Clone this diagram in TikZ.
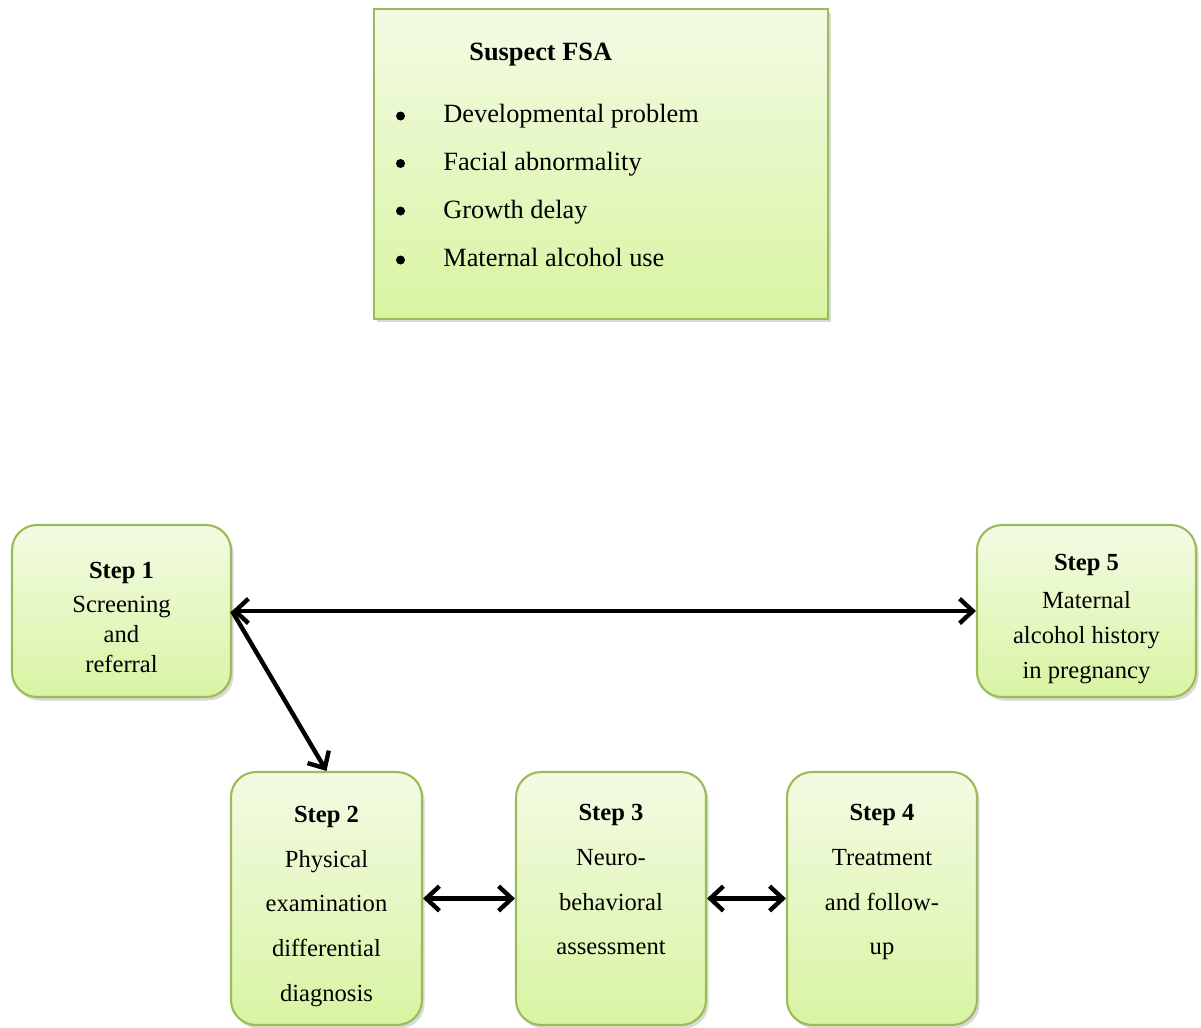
\documentclass[tikz,border=0pt]{standalone}
\usepackage{fontspec}
\setmainfont{Liberation Serif}
\usetikzlibrary{positioning, calc, shadows, arrows.meta}
\definecolor{boxline}{RGB}{155,187,89}
\definecolor{boxtop}{RGB}{243,251,228}
\definecolor{boxbot}{RGB}{216,244,162}

\begin{document}
\begin{tikzpicture}[x=0.02cm, y=-0.02cm]%
            \tikzstyle{box}=[draw=boxline, line width=1.2pt, top color=boxtop, bottom color=boxbot, drop shadow={shadow xshift=1.5pt, shadow yshift=-2pt, opacity=0.3}];%
            \tikzstyle{stepbox}=[box, rounded corners=0.5cm];%
            \tikzstyle{steptext}=[align=center, inner sep=0pt];%
            \tikzstyle{item}=[anchor=base west, inner sep=0pt, font=\fontsize{15}{18}\selectfont];%
            \tikzstyle{dot}=[circle, fill=black, inner sep=0pt, minimum size=0.18cm];%
            \tikzstyle{link}=[line width=2.5pt, {Straight Barb[length=7.5pt, width=14pt]}-{Straight Barb[length=7.5pt, width=14pt]}];%
            \useasboundingbox (0, 0) rectangle (1201, 1028);

            % suspect box
            \node[box, minimum width=9.08cm, minimum height=6.2cm] (fsa) at (601, 164) {};
            \node[item] (title) at (469, 60) {\textbf{Suspect FSA}};
            \node[dot] (b1) at (400.5, 116) {};
            \node[item] (i1) at (443, 122.5) {Developmental problem};
            \node[dot] (b2) at (400.5, 163.5) {};
            \node[item] (i2) at (443, 170.5) {Facial abnormality};
            \node[dot] (b3) at (400.5, 211) {};
            \node[item] (i3) at (443, 218) {Growth delay};
            \node[dot] (b4) at (400.5, 260) {};
            \node[item] (i4) at (443, 266.5) {Maternal alcohol use};

            % steps
            \node[stepbox, minimum width=4.38cm, minimum height=3.44cm] (s1) at (121.5, 611) {};
            \node[steptext, yshift=-3.7pt, font=\fontsize{14}{17}\selectfont] (t1) at (s1) {\textbf{Step 1}\\[2.5pt]Screening\\and\\referral};
            \node[stepbox, minimum width=4.38cm, minimum height=3.44cm] (s5) at (1086.5, 611) {};
            \node[steptext, yshift=-4.5pt, font=\fontsize{14}{20}\selectfont] (t5) at (s5) {\textbf{Step 5}\\[1.5pt]Maternal\\alcohol history\\in pregnancy};
            \node[stepbox, minimum width=3.82cm, minimum height=5.06cm] (s2) at (326.5, 898.5) {};
            \node[steptext, yshift=-4.5pt, font=\fontsize{14}{25.5}\selectfont] (t2) at (s2) {\textbf{Step 2}\\Physical\\examination\\differential\\diagnosis};
            \node[stepbox, minimum width=3.8cm, minimum height=5.06cm] (s3) at (611, 898.5) {};
            \node[steptext, yshift=-5.8pt, font=\fontsize{14}{25.5}\selectfont] (t3) at (s3) {\textbf{Step 3}\\Neuro-\\behavioral\\assessment\\\strut};
            \node[stepbox, minimum width=3.8cm, minimum height=5.06cm] (s4) at (882, 898.5) {};
            \node[steptext, yshift=-5.8pt, font=\fontsize{14}{25.5}\selectfont] (t4) at (s4) {\textbf{Step 4}\\Treatment\\and follow-\\up\\\strut};

            % links
            \draw (s1.east) edge[link] (s5.west);
            \draw (s1.east) edge[line width=2.5pt, -{Straight Barb[length=7.5pt, width=14pt]}] (s2.north);
            \draw (s2) edge[link] (s3);
            \draw (s3) edge[link] (s4);
        \end{tikzpicture}
\end{document}
